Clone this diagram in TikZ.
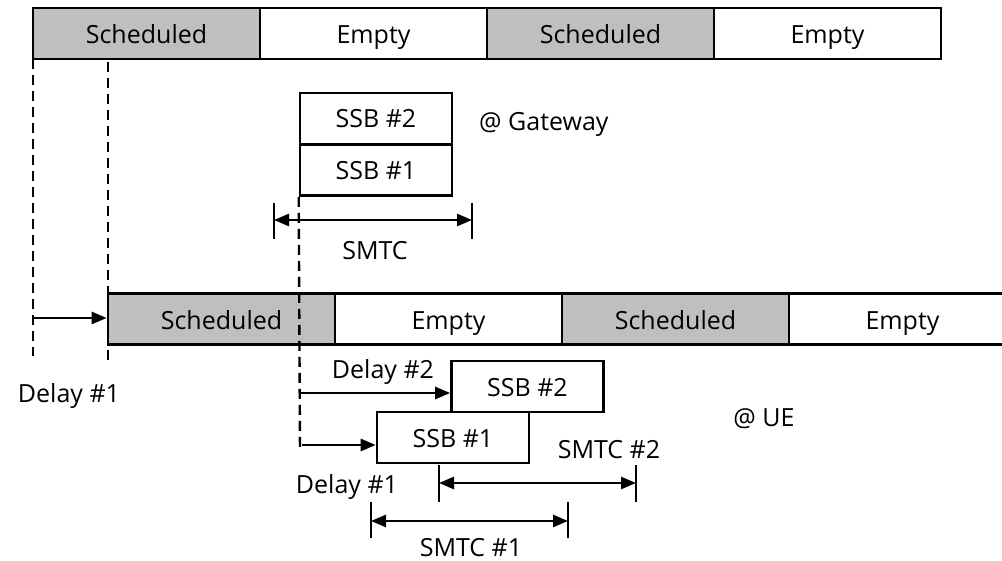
\documentclass[tikz,border=0pt]{standalone}
\usepackage{fontspec}
\setmainfont{Open Sans}
\usetikzlibrary{arrows.meta}
\definecolor{shade}{RGB}{191,191,191}
\newcommand{\labfont}{\fontsize{25}{29}\selectfont}
\tikzset{
  x=1pt, y=-1pt,
  cell/.style={draw, line width=2.6pt, minimum width=227pt, minimum height=51pt,
    inner sep=0pt, font=\labfont, text height=21pt, text depth=0pt, anchor=center},
  sched/.style={cell, fill=shade},
  emptycell/.style={cell, fill=white},
  ssb/.style={draw, line width=2.6pt, fill=white, minimum width=152pt,
    minimum height=51pt, inner sep=0pt, font=\labfont, text height=19pt, text depth=0pt},
  guide/.style={line width=2.4pt, dash pattern=on 10pt off 6pt},
  delayarrow/.style={line width=2.6pt, -{Triangle[length=15pt,width=12pt]}},
  spanarrow/.style={line width=2.6pt,
    {Triangle[length=15pt,width=12pt]}-{Triangle[length=15pt,width=12pt]}},
  tickmark/.style={line width=1.2pt},
  lbl/.style={font=\labfont, inner sep=0pt, text height=17.9pt, text depth=0pt},
}
\begin{document}
\begin{tikzpicture}
\useasboundingbox (0,0) rectangle (1002,561);

% guide lines from the gateway time axis
\draw[guide] (33,59) -- (33,356);
\draw[guide] (108,62) -- (108,362);

% gateway time axis
\node[sched]     (t1) at (146.5,33.5) {Scheduled};
\node[emptycell] (t2) at (373.5,33.5) {Empty};
\node[sched]     (t3) at (600.5,33.5) {Scheduled};
\node[emptycell] (t4) at (827.5,33.5) {Empty};

% UE time axis, shifted by the feeder delay
\node[sched]     (b1) at (221.5,319) {Scheduled};
\node[emptycell] (b2) at (448.5,319) {Empty};
\node[sched]     (b3) at (675.5,319) {Scheduled};
\node[emptycell] (b4) at (902.5,319) {Empty};

\coordinate (d0) at (33,318);
\draw[delayarrow] (d0) -- (d0 -| b1.west);
\node[lbl] (dl0) at (69,394) {Delay \#1};

% SSBs at the gateway
\node[ssb] (g2) at (376,118.5) {SSB \#2};
\node[ssb] (g1) at (376,170) {SSB \#1};
\node[lbl, anchor=west] (gw) at (479,122) {@ Gateway};

\draw[guide] (g1.south west) -- (300,452);

% SMTC window at the gateway
\coordinate (sa) at (274,220);
\coordinate (sb) at (472,220);
\draw[tickmark] (274,203) -- (274,239);
\draw[tickmark] (472,203) -- (472,239);
\draw[spanarrow] (sa) -- (sb);
\node[lbl] (smtc) at (375,251) {SMTC};

% SSBs at the UE
\node[ssb] (u2) at (527.5,386.5) {SSB \#2};
\node[ssb] (u1) at (453,437.5) {SSB \#1};
\node[lbl] (ue) at (764,418) {@ UE};

\coordinate (d2) at (300,393);
\draw[delayarrow] (d2) -- (d2 -| u2.west);
\node[lbl] (dl2) at (383,370) {Delay \#2};

\coordinate (d1) at (302,445);
\draw[delayarrow] (d1) -- (d1 -| u1.west);
\node[lbl] (dl1) at (347,485) {Delay \#1};

% SMTC windows at the UE
\coordinate (s2a) at (439,483);
\coordinate (s2b) at (636,483);
\draw[tickmark] (439,465) -- (439,502);
\draw[tickmark] (636,465) -- (636,502);
\draw[spanarrow] (s2a) -- (s2b);
\node[lbl] (smtc2) at (609,450) {SMTC \#2};

\coordinate (s1a) at (371,521);
\coordinate (s1b) at (568,521);
\draw[tickmark] (371,502) -- (371,538);
\draw[tickmark] (568,502) -- (568,538);
\draw[spanarrow] (s1a) -- (s1b);
\node[lbl] (smtc1) at (471,548) {SMTC \#1};
\end{tikzpicture}
\end{document}
